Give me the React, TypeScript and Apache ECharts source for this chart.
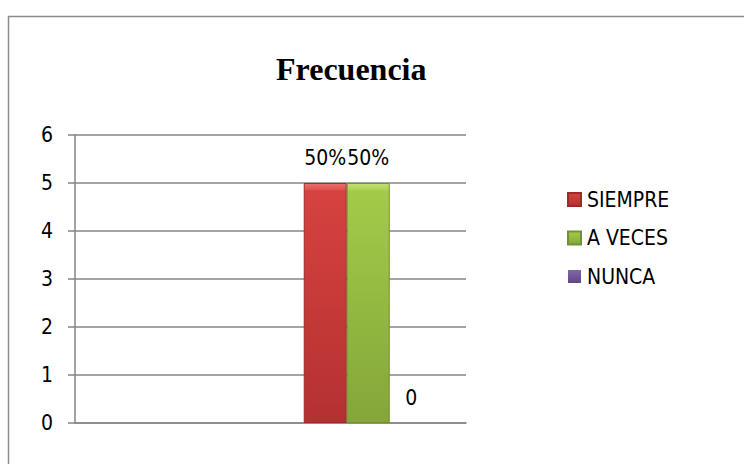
import React, { useEffect, useRef } from "react";
import * as echarts from "echarts";

const categories = ["", " "];
const seriesNames = ["SIEMPRE", "A VECES", "NUNCA"];
const siempre = [null, 5];
const aVeces = [null, 5];
const nunca = [null, 0];
const pctLabels = ["50%", "50%", "0"];
const yTicks = [0, 1, 2, 3, 4, 5, 6];

const FONT = "'DejaVu Sans Condensed', 'Liberation Sans', Arial, sans-serif";
const FS = 21;

function grad(top: string, bevel: string, mid: string, bottom: string) {
  return new echarts.graphic.LinearGradient(0, 0, 0, 1, [
    { offset: 0, color: top },
    { offset: 0.025, color: bevel },
    { offset: 0.03, color: mid },
    { offset: 1, color: bottom },
  ]);
}

export default function App() {
  const ref = useRef<HTMLDivElement>(null);
  useEffect(() => {
    if (!ref.current) return;
    const chart = echarts.init(ref.current, undefined, { renderer: "svg" });
    const colors = [
      { top: "#ee6e6c", bevel: "#e05452", mid: "#d64240", bottom: "#b43131", border: "#9c2a29", plain: "#c43b3a" },
      { top: "#c4e070", bevel: "#aed356", mid: "#a3cb48", bottom: "#84a63a", border: "#72922f", plain: "#95bb42" },
      { top: "#a68ad0", bevel: "#8d70b6", mid: "#8064a8", bottom: "#5f4785", border: "#4f3a72", plain: "#7459a0" },
    ];
    const datasets = [siempre, aVeces, nunca];
    const option: any = {
      animation: false,
      backgroundColor: "#ffffff",
      title: {
        text: "Frecuencia",
        left: 271,
        top: 48,
        textStyle: {
          fontFamily: "'Liberation Serif', 'Times New Roman', serif",
          fontWeight: "bold",
          fontSize: 32,
          color: "#000000",
        },
      },
      legend: {
        orient: "vertical",
        left: 567,
        top: 189,
        padding: 0,
        itemWidth: 13,
        itemHeight: 13,
        itemGap: 17.5,
        icon: "rect",
        data: seriesNames,
        textStyle: { fontFamily: FONT, fontSize: FS, color: "#000000", lineHeight: 18, padding: [0, 0, 0, 1] },
      },
      graphic: [
        {
          type: "rect",
          shape: { x: 8.5, y: 16.5, width: 800, height: 500 },
          style: { fill: "none", stroke: "#8c8c8c", lineWidth: 1.5 },
          silent: true,
        },
      ],
      grid: { left: 75, top: 135, width: 391, height: 288, containLabel: false },
      xAxis: {
        type: "category",
        data: categories,
        axisLine: { show: true, lineStyle: { color: "#868686", width: 1.5 } },
        axisTick: { show: false },
        axisLabel: { show: false },
        splitLine: { show: false },
      },
      yAxis: {
        type: "value",
        min: yTicks[0],
        max: yTicks[yTicks.length - 1],
        interval: 1,
        axisLine: { show: true, lineStyle: { color: "#868686", width: 1.5 } },
        axisTick: { show: true, inside: false, length: 7, lineStyle: { color: "#868686", width: 1.5 } },
        axisLabel: { margin: 22, fontFamily: FONT, fontSize: FS, color: "#000000" },
        splitLine: { show: true, lineStyle: { color: "#868686", width: 1.5 } },
      },
      series: datasets.map((d, i) => ({
        name: seriesNames[i],
        type: "bar",
        data: d,
        barGap: "0%",
        barCategoryGap: "34%",
        color: colors[i].plain,
        itemStyle: {
          color: grad(colors[i].top, colors[i].bevel, colors[i].mid, colors[i].bottom),
          borderColor: colors[i].border,
          borderWidth: i === 2 ? 0 : 1,
        },
        label: {
          show: true,
          position: "top",
          distance: 15,
          formatter: () => pctLabels[i],
          fontFamily: FONT,
          fontSize: FS,
          color: "#000000",
        },
      })),
    };
    chart.setOption(option);
    return () => chart.dispose();
  }, []);
  return (
    <div
      ref={ref}
      style={{ position: "fixed", left: 0, top: 0, width: 744, height: 464 }}
    />
  );
}
